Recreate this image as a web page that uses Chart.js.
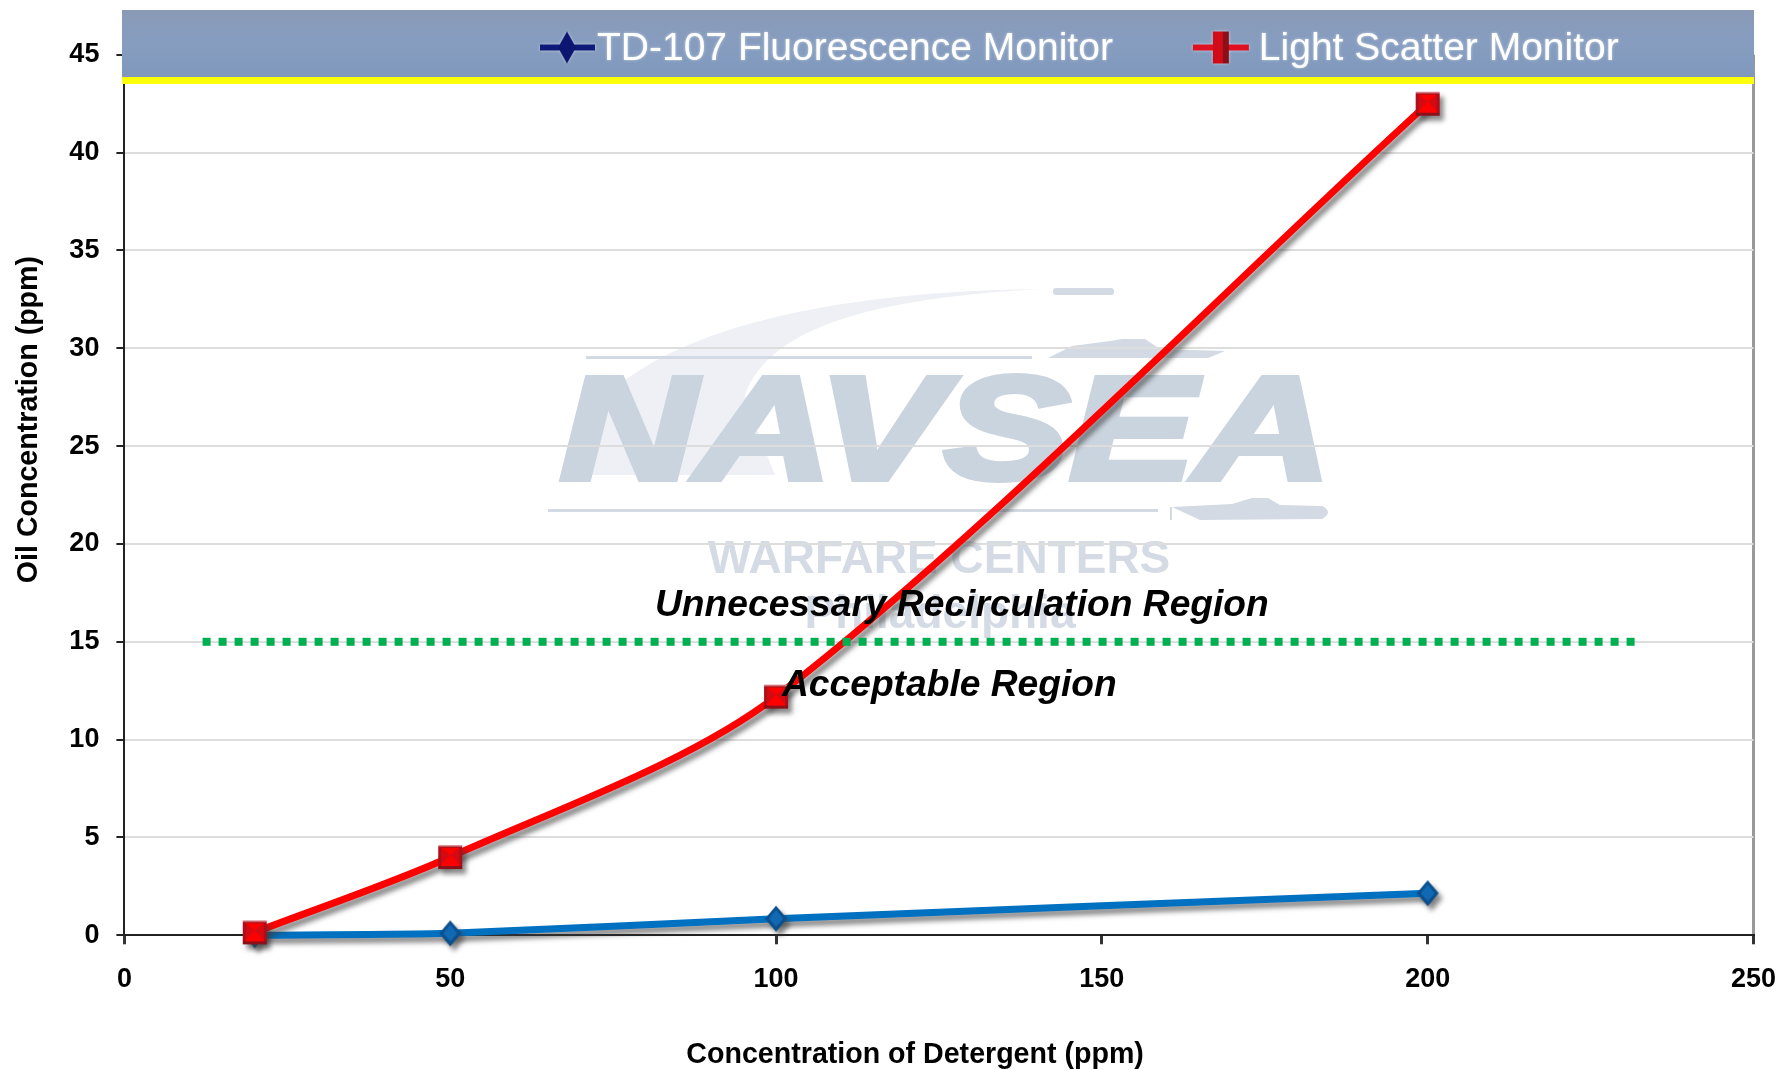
<!DOCTYPE html>
<html><head><meta charset="utf-8">
<style>html,body{margin:0;padding:0;background:#fff}#w{width:1781px;height:1070px}</style>
<script src="https://cdn.jsdelivr.net/npm/chart.js@4/dist/chart.umd.js"></script>
</head><body><div id="w"><canvas id="c" width="1781" height="1070"></canvas></div>
<script>
const detergent = [20, 50, 100, 200];
const fluorescence = [0, 0.1, 0.85, 2.15];
const lightScatter = [0.15, 4, 12.2, 42.5];
const limitX = [12, 232];
const limitY = [15, 15];
const seriesNames = ['TD-107 Fluorescence Monitor', 'Light Scatter Monitor', 'Limit'];
const xTitle = 'Concentration of Detergent (ppm)';
const yTitle = 'Oil Concentration (ppm)';
const regionUpper = 'Unnecessary Recirculation Region';
const regionLower = 'Acceptable Region';

const pts = (xs, ys) => xs.map((x, i) => ({x, y: ys[i]}));
function mk(w, h, fn) { const c = document.createElement('canvas'); c.width = w; c.height = h; fn(c.getContext('2d'), w, h); return c; }

const redSquare = mk(26, 26, (g) => {
  g.fillStyle = '#b00d18'; g.fillRect(1, 1, 24, 24);
  g.fillStyle = '#ff0000'; g.fillRect(4, 4, 18, 18);
  g.fillStyle = '#d40a12';
  g.beginPath(); g.moveTo(4, 4); g.lineTo(13, 11); g.lineTo(4, 20); g.fill();
  g.beginPath(); g.moveTo(22, 4); g.lineTo(13, 11); g.lineTo(22, 20); g.fill();
  g.fillStyle = '#8a1019'; g.fillRect(1, 22, 24, 3);
  g.fillStyle = '#d98a8f'; g.fillRect(1, 1, 24, 1.5);
});
const blueDiamond = mk(24, 28, (g) => {
  g.fillStyle = '#0b4f8c'; g.beginPath(); g.moveTo(12, 1); g.lineTo(23, 14); g.lineTo(12, 27); g.lineTo(1, 14); g.fill();
  g.fillStyle = '#1169b4'; g.beginPath(); g.moveTo(12, 5); g.lineTo(19, 14); g.lineTo(12, 22); g.lineTo(5, 14); g.fill();
});
const legendBlue = mk(71, 44, (g) => {
  g.fillStyle = '#0e1a78'; g.fillRect(16, 17, 55, 6);
  g.fillStyle = '#0c1570'; g.beginPath(); g.moveTo(43, 4); g.lineTo(52, 20); g.lineTo(43, 36); g.lineTo(34, 20); g.fill();
});
const legendRed = mk(71, 44, (g) => {
  g.fillStyle = '#e01020'; g.fillRect(7, 17, 56, 6);
  g.fillStyle = '#d00c18'; g.fillRect(27, 4, 16, 32);
  g.fillStyle = '#8c0f18'; g.fillRect(37, 4, 6, 32);
});

function watermark(g) {
  g.save();
  g.fillStyle = '#eef0f5';
  g.beginPath(); g.moveTo(566, 475);
  g.bezierCurveTo(580, 350, 780, 292, 1040, 289);
  g.bezierCurveTo(880, 298, 770, 325, 745, 395);
  g.quadraticCurveTo(760, 440, 775, 475); g.closePath(); g.fill();
  g.fillStyle = '#d3dae3';
  g.fillRect(586, 356, 446, 3);
  g.fillRect(548, 509, 610, 3);
  g.beginPath(); g.roundRect(1053, 288, 61, 7, 3); g.fill();
  g.beginPath(); g.moveTo(1048, 358); g.lineTo(1072, 346); g.lineTo(1110, 341); g.lineTo(1122, 339); g.lineTo(1145, 339);
  g.lineTo(1160, 349); g.lineTo(1225, 351); g.lineTo(1208, 358); g.closePath(); g.fill();
  g.fillRect(1170, 507, 2, 13);
  g.beginPath(); g.moveTo(1172, 507); g.lineTo(1232, 504); g.lineTo(1252, 498); g.lineTo(1268, 498); g.lineTo(1280, 505);
  g.lineTo(1322, 506); g.quadraticCurveTo(1334, 512, 1322, 519); g.lineTo(1200, 520); g.closePath(); g.fill();
  g.fillStyle = '#cad4df'; g.strokeStyle = '#cad4df'; g.lineWidth = 6; g.lineJoin = 'miter'; g.textBaseline = 'alphabetic'; g.textAlign = 'left';
  g.save(); g.translate(560, 479); g.scale(1.282, 1);
  g.font = 'italic bold 147px "Liberation Sans"'; g.fillText('NAVSEA', 0, 0); g.strokeText('NAVSEA', 0, 0); g.restore();
  g.fillStyle = '#d4dbe4'; g.font = 'bold 46px "Liberation Sans"'; g.textAlign = 'center';
  g.fillText('WARFARE CENTERS', 939, 573);
  g.fillText('Philadelphia', 940, 628);
  g.restore();
}

function regionText(g) {
  g.save(); g.fillStyle = '#000'; g.textAlign = 'left'; g.textBaseline = 'alphabetic';
  g.font = 'italic bold 37.2px "Liberation Sans"';
  g.fillText(regionUpper, 655, 616);
  g.fillText(regionLower, 782, 696);
  g.restore();
}

function banner(chart) {
  const g = chart.ctx;
  g.save();
  const grad = g.createLinearGradient(0, 10, 0, 77);
  grad.addColorStop(0, '#8a9ab6'); grad.addColorStop(0.5, '#869dc0'); grad.addColorStop(1, '#7f98bb');
  g.fillStyle = grad; g.fillRect(122, 10, 1632, 67);
  g.fillStyle = '#ffff0a'; g.fillRect(122, 77, 1632, 7);
  g.restore();
  g.save();
  g.shadowColor = 'rgba(255,255,255,0.55)'; g.shadowBlur = 3;
  chart.legend.draw();
  g.restore();
}

const stage = {
  id: 'stage',
  beforeUpdate(chart) {
    const l = chart.legend;
    if (l && !l._flat) { const f = l.fit; l.fit = function () { f.call(this); this.height = 0; }; l._flat = true; }
  },
  beforeDraw(chart) { const g = chart.ctx; g.save(); g.fillStyle = '#fff'; g.fillRect(0, 0, chart.width, chart.height); watermark(g); g.restore(); },
  afterLayout(chart) { const l = chart.legend; l.left = 451; l.right = 1760; l.top = -60.5; l.bottom = 100; l.width = 1309; l.height = 160; },
  beforeDatasetDraw(chart, args) {
    const g = chart.ctx; g.save();
    if (args.index < 2) { g.shadowColor = 'rgba(60,60,60,0.6)'; g.shadowBlur = 5; g.shadowOffsetX = 4; g.shadowOffsetY = 5; }
  },
  afterDatasetDraw(chart) { chart.ctx.restore(); },
  afterDatasetsDraw(chart) { regionText(chart.ctx); banner(chart); }
};

const tickFont = {family: '"Liberation Sans"', size: 27, weight: 'bold'};
const titleFont = {family: '"Liberation Sans"', size: 28.6, weight: 'bold'};
new Chart(document.getElementById('c'), {
  type: 'line',
  plugins: [stage],
  data: { datasets: [
    { label: seriesNames[0], data: pts(detergent, fluorescence), borderColor: '#0070c0', backgroundColor: '#0070c0', borderWidth: 7, tension: 0.2, pointStyle: blueDiamond, clip: false, order: 2 },
    { label: seriesNames[1], data: pts(detergent, lightScatter), borderColor: '#ff0000', backgroundColor: '#ff0000', borderWidth: 7, tension: 0.3, pointStyle: redSquare, clip: false, order: 1 },
    { label: seriesNames[2], data: pts(limitX, limitY), borderColor: '#00b050', borderWidth: 8, borderDash: [8, 8], pointRadius: 0, tension: 0, order: 0 }
  ]},
  options: {
    responsive: false, animation: false, events: [],
    layout: { padding: { top: 54.8, right: 27.5, left: 0, bottom: 0 } },
    plugins: {
      tooltip: { enabled: false },
      legend: {
        position: 'top', align: 'start',
        labels: {
          usePointStyle: true, pointStyleWidth: 36, padding: 90.5, color: '#fff',
          font: {family: '"Liberation Sans"', size: 39},
          generateLabels() {
            return [legendBlue, legendRed].map((img, i) => ({ text: seriesNames[i], pointStyle: img, datasetIndex: i, fontColor: '#fff', lineWidth: 0, hidden: false }));
          }
        }
      }
    },
    scales: {
      x: { type: 'linear', min: 0, max: 250,
        afterFit(s) { s.height = 134.7; s.paddingRight = 0; s.paddingLeft = 0; },
        ticks: { stepSize: 50, color: '#000', font: tickFont, padding: 19, maxRotation: 0 },
        grid: { color: (c) => (c.tick && c.tick.value === 250 ? '#999999' : 'rgba(0,0,0,0)'), tickColor: '#333', tickLength: 9, lineWidth: 3 },
        border: { color: '#222', width: 2 },
        title: { display: true, text: xTitle + ' '.repeat(6), color: '#000', font: titleFont, padding: {top: 38, bottom: -2} }
      },
      y: { type: 'linear', min: 0, max: 45,
        afterFit(s) { s.width = 124.4; },
        ticks: { stepSize: 5, color: '#000', font: tickFont, padding: 17 },
        grid: { color: '#dddddd', tickColor: '#222', tickLength: 8, lineWidth: 2 },
        border: { color: '#222', width: 2 },
        title: { display: true, text: ' '.repeat(19) + yTitle, color: '#000', font: titleFont, padding: {top: 12, bottom: 0} }
      }
    }
  }
});
</script></body></html>
